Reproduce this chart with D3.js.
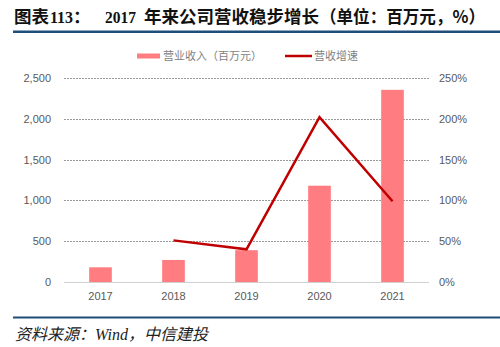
<!DOCTYPE html>
<html>
<head>
<meta charset="utf-8">
<script src="https://cdn.jsdelivr.net/npm/d3@7"></script>
<style>
  html, body { margin: 0; padding: 0; background: #fff; }
  svg { display: block; }
</style>
</head>
<body>
<svg id="chart" width="500" height="347"></svg>
<script>
// Revenue (million yuan) and year-on-year growth (%)
const years = ["2017", "2018", "2019", "2020", "2021"];
const revenue = [180, 270, 390, 1180, 2355];
const growth = [null, 51, 40, 202, 99];
const leftTicks = [0, 500, 1000, 1500, 2000, 2500];
const rightTicks = [0, 50, 100, 150, 200, 250];
const seriesNames = ["营业收入（百万元）", "营收增速"];

const svg = d3.select("#chart");
const plot = { left: 64, right: 429, top: 78, bottom: 282 };

const x = d3.scaleBand().domain(years).range([plot.left, plot.right])
  .paddingInner(0.69).paddingOuter(0.345);
const yL = d3.scaleLinear().domain([0, 2500]).range([plot.bottom, plot.top]);
const yR = d3.scaleLinear().domain([0, 250]).range([plot.bottom, plot.top]);

const tickFont = "Liberation Sans, Arial, sans-serif";
const tickColor = "#595959";
const cjk = "'Noto Sans CJK SC', sans-serif";
const serif = "Liberation Serif, 'Times New Roman', serif";

// Title: CJK in bold sans, numerals in bold serif
const title = svg.append("text").attr("y", 23).attr("font-weight", "bold").attr("fill", "#111");
const titleParts = [
  { t: "图表", x: 14, f: cjk, s: 17.5 },
  { t: "113", x: 50, f: serif, s: 17, len: 23 },
  { t: "：", x: 73, f: cjk, s: 17.5 },
  { t: "2017", x: 105, f: serif, s: 17, len: 31 },
  { t: "年来公司营收稳步增长", x: 144, f: cjk, s: 17.5 },
  { t: "（单位：百万元，%）", x: 320, f: cjk, s: 17.5, len: 165 }
];
titleParts.forEach(p => {
  const ts = title.append("tspan").attr("x", p.x).attr("font-family", p.f).attr("font-size", p.s).text(p.t);
  if (p.len) ts.attr("textLength", p.len).attr("lengthAdjust", "spacingAndGlyphs");
});
svg.append("rect").attr("x", 13).attr("y", 30.5).attr("width", 487).attr("height", 2.5).attr("fill", "#1F4E79");

// Gridlines
svg.append("g").selectAll("line").data(leftTicks.filter(d => d > 0)).join("line")
  .attr("x1", plot.left).attr("x2", plot.right)
  .attr("y1", d => Math.round(yL(d)) + 0.5).attr("y2", d => Math.round(yL(d)) + 0.5)
  .attr("stroke", "#9a9a9a").attr("stroke-width", 1).attr("stroke-dasharray", "2,1");
svg.append("line").attr("x1", plot.left).attr("x2", plot.right)
  .attr("y1", plot.bottom + 0.5).attr("y2", plot.bottom + 0.5)
  .attr("stroke", "#d0d0d0").attr("stroke-width", 1);

// Left axis
const leftAxis = d3.axisLeft(yL).tickValues(leftTicks).tickFormat(d3.format(",")).tickSize(0).tickPadding(13);
const gL = svg.append("g").attr("transform", `translate(${plot.left},0)`).call(leftAxis);
gL.select(".domain").remove();
gL.selectAll("text").attr("font-family", tickFont).attr("font-size", 11).attr("fill", tickColor);

// Right axis
const rightAxis = d3.axisRight(yR).tickValues(rightTicks).tickFormat(d => d + "%").tickSize(0).tickPadding(10);
const gR = svg.append("g").attr("transform", `translate(${plot.right},0)`).call(rightAxis);
gR.select(".domain").remove();
gR.selectAll("text").attr("font-family", tickFont).attr("font-size", 11).attr("fill", tickColor);

// Bottom axis
const bottomAxis = d3.axisBottom(x).tickSize(0).tickPadding(10);
const gB = svg.append("g").attr("transform", `translate(0,${plot.bottom})`).call(bottomAxis);
gB.select(".domain").remove();
gB.selectAll("text").attr("font-family", tickFont).attr("font-size", 11).attr("fill", tickColor);

// Bars
svg.append("g").selectAll("rect").data(years).join("rect")
  .attr("x", d => x(d)).attr("width", x.bandwidth())
  .attr("y", (d, i) => yL(revenue[i])).attr("height", (d, i) => yL(0) - yL(revenue[i]))
  .attr("fill", "#FF7C80");

// Growth line
const pts = years.map((d, i) => [x(d) + x.bandwidth() / 2, growth[i]]).filter(p => p[1] != null);
svg.append("path").datum(pts)
  .attr("d", d3.line().x(p => p[0]).y(p => yR(p[1])))
  .attr("fill", "none").attr("stroke", "#C00000").attr("stroke-width", 2.5);

// Legend
const legY = 56;
svg.append("rect").attr("x", 137).attr("y", legY - 2.5).attr("width", 23).attr("height", 5).attr("fill", "#FF7C80");
svg.append("text").attr("x", 163).attr("y", legY + 4)
  .attr("font-family", cjk).attr("font-size", 11).attr("fill", "#7f7f7f")
  .text(seriesNames[0]);
svg.append("line").attr("x1", 285).attr("x2", 312).attr("y1", legY).attr("y2", legY)
  .attr("stroke", "#C00000").attr("stroke-width", 2.5);
svg.append("text").attr("x", 314).attr("y", legY + 4)
  .attr("font-family", cjk).attr("font-size", 11).attr("fill", "#7f7f7f")
  .text(seriesNames[1]);

// Source rule and note
svg.append("rect").attr("x", 13).attr("y", 316.5).attr("width", 487).attr("height", 2).attr("fill", "#1F4E79");
svg.append("text").attr("x", 15).attr("y", 340)
  .attr("font-family", serif + ", 'Noto Sans CJK SC'")
  .attr("font-style", "italic").attr("font-size", 16).attr("fill", "#222")
  .text("资料来源：Wind，中信建投");
</script>
</body>
</html>
